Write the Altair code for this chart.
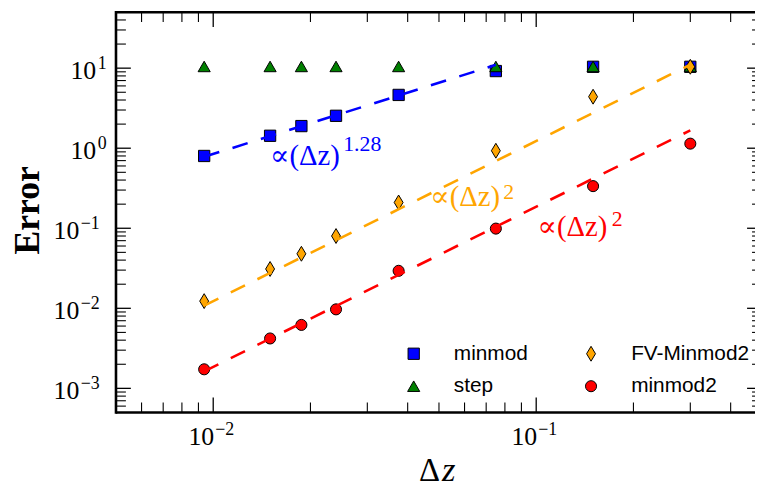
import altair as alt
import pandas as pd

# ---------------- data ----------------
dz = [0.009375, 0.015, 0.01875, 0.024, 0.0375, 0.075, 0.15, 0.3]
err_minmod = [0.80, 1.43, 1.89, 2.54, 4.63, 9.2, 10.4, 10.4]
err_step = [10.5, 10.5, 10.5, 10.5, 10.5, 10.5, 10.5, 10.5]
err_fv_minmod2 = [0.0123, 0.031, 0.048, 0.080, 0.21, 0.93, 4.4, 10.4]
err_minmod2 = [0.00173, 0.0042, 0.0062, 0.0097, 0.0294, 0.099, 0.336, 1.14]

legend_order = ["minmod", "step", "FV-Minmod2", "minmod2"]
legend_colors = ["#0000ff", "#008000", "#ffa500", "#ff0000"]
legend_shapes = ["square", "triangle-up", "M0,-1L0.6,0L0,1L-0.6,0Z", "circle"]
legend_sizes = [130, 150, 225, 125]

# fitted power laws (end points of the dashed lines)
fit_minmod_x = [0.009375, 0.075]
fit_minmod_y = [0.78, 11.0]
fit_fv_x = [0.009375, 0.3]
fit_fv_y = [0.0108, 11.06]
fit_minmod2_x = [0.009375, 0.3]
fit_minmod2_y = [0.00163, 1.67]

# annotations
ann_base = ["∝(Δz)", "∝(Δz)", "∝(Δz)"]
ann_x = [0.015, 0.047, 0.101]
ann_y = [0.62, 0.187, 0.0805]
ann_exp = ["1.28", "2", "2"]
ann_exp_x = [0.02526, 0.0790, 0.1713]
ann_exp_y = [0.927, 0.235, 0.1067]
ann_colors = ["#0000ff", "#ffa500", "#ff0000"]

# axis ticks
x_major = [0.01, 0.1]
x_major_exp = ["−2", "−1"]
x_minor = [0.006, 0.007, 0.008, 0.009, 0.02, 0.03, 0.04, 0.05, 0.06, 0.07,
           0.08, 0.09, 0.2, 0.3, 0.4]
y_major = [0.001, 0.01, 0.1, 1, 10]
y_major_exp = ["−3", "−2", "−1", "0", "1"]
y_major_neg = [True, True, True, False, False]
y_minor = [0.0006, 0.0007, 0.0008, 0.0009,
           0.002, 0.003, 0.004, 0.005, 0.006, 0.007, 0.008, 0.009,
           0.02, 0.03, 0.04, 0.05, 0.06, 0.07, 0.08, 0.09,
           0.2, 0.3, 0.4, 0.5, 0.6, 0.7, 0.8, 0.9,
           2, 3, 4, 5, 6, 7, 8, 9,
           20, 30, 40]

x_title_delta = "Δ"
x_title_z = "z"
y_title = "Error"

# ---------------- layout ----------------
W, H = 645, 404
SERIF = "Liberation Serif, DejaVu Serif, serif"
SANS = "Liberation Sans, Arial, sans-serif"

xs = alt.Scale(type="log", domain=[0.005, 0.4758], nice=False)
ys = alt.Scale(type="log", domain=[0.0005, 50], nice=False)

series_col = (["minmod"] * len(dz) + ["step"] * len(dz)
              + ["FV-Minmod2"] * len(dz) + ["minmod2"] * len(dz))
pts = pd.DataFrame({
    "dz": dz + dz + dz + dz,
    "err": err_minmod + err_step + err_fv_minmod2 + err_minmod2,
    "series": series_col,
})

points = alt.Chart(pts).mark_point(
    filled=True, opacity=1, stroke="black", strokeWidth=1
).encode(
    x=alt.X("dz:Q", scale=xs, axis=None),
    y=alt.Y("err:Q", scale=ys, axis=None),
    color=alt.Color("series:N", scale=alt.Scale(domain=legend_order, range=legend_colors),
                    legend=alt.Legend(
                        title=None, orient="none", legendX=290, legendY=334,
                        columns=2, padding=0, labelFont=SANS, labelFontSize=21,
                        labelColor="black", labelOffset=30, columnPadding=53,
                        rowPadding=11, symbolStrokeColor="black",
                        symbolStrokeWidth=1, symbolOpacity=1)),
    shape=alt.Shape("series:N", scale=alt.Scale(domain=legend_order, range=legend_shapes)),
    size=alt.Size("series:N", scale=alt.Scale(type="ordinal", domain=legend_order,
                                              range=legend_sizes)),
)

fits = pd.DataFrame({
    "x": fit_minmod_x + fit_fv_x + fit_minmod2_x,
    "y": fit_minmod_y + fit_fv_y + fit_minmod2_y,
    "g": ["a", "a", "b", "b", "c", "c"],
    "c": ["#0000ff", "#0000ff", "#ffa500", "#ffa500", "#ff0000", "#ff0000"],
})
lines = alt.Chart(fits).mark_line(strokeDash=[16, 14], strokeWidth=2.6).encode(
    x=alt.X("x:Q", scale=xs, axis=None),
    y=alt.Y("y:Q", scale=ys, axis=None),
    color=alt.Color("c:N", scale=None),
    detail="g:N",
)

ann = pd.DataFrame({"x": ann_x, "y": ann_y, "t": ann_base, "c": ann_colors,
                    "ex": ann_exp_x, "ey": ann_exp_y, "e": ann_exp})
ann_base_layer = alt.Chart(ann).mark_text(
    align="left", baseline="alphabetic", font=SERIF, fontSize=29
).encode(
    x=alt.X("x:Q", scale=xs, axis=None), y=alt.Y("y:Q", scale=ys, axis=None),
    text="t:N", color=alt.Color("c:N", scale=None))
ann_exp_layer = alt.Chart(ann).mark_text(
    align="left", baseline="alphabetic", font=SERIF, fontSize=22
).encode(
    x=alt.X("ex:Q", scale=xs, axis=None), y=alt.Y("ey:Q", scale=ys, axis=None),
    text="e:N", color=alt.Color("c:N", scale=None))

# ticks (inward, on all four sides)
def yticks(vals, length, width):
    d = alt.Chart(pd.DataFrame({"v": vals}))
    left = d.mark_rule(color="black", strokeWidth=width).encode(
        y=alt.Y("v:Q", scale=ys, axis=None), x=alt.value(0), x2=alt.value(length))
    right = d.mark_rule(color="black", strokeWidth=width).encode(
        y=alt.Y("v:Q", scale=ys, axis=None), x=alt.value(W + 7 - length), x2=alt.value(W + 7))
    return [left, right]

def xticks(vals, length, width):
    d = alt.Chart(pd.DataFrame({"v": vals}))
    top = d.mark_rule(color="black", strokeWidth=width).encode(
        x=alt.X("v:Q", scale=xs, axis=None), y=alt.value(0), y2=alt.value(length))
    bottom = d.mark_rule(color="black", strokeWidth=width).encode(
        x=alt.X("v:Q", scale=xs, axis=None), y=alt.value(H - length), y2=alt.value(H))
    return [top, bottom]

tick_layers = (yticks(y_major, 15, 1.3) + yticks(y_minor, 10, 1.1)
               + xticks(x_major, 15, 1.3) + xticks(x_minor, 10, 1.1))

one = alt.Chart(pd.DataFrame({"a": [0]}))
spines = [
    one.mark_rule(color="black", strokeWidth=2.6).encode(
        x=alt.value(0), y=alt.value(-1.3), y2=alt.value(H + 1.3)),
    one.mark_rule(color="black", strokeWidth=2.6).encode(
        y=alt.value(0), x=alt.value(0), x2=alt.value(W + 20)),
    one.mark_rule(color="black", strokeWidth=2.6).encode(
        y=alt.value(H), x=alt.value(0), x2=alt.value(W + 20)),
]

# axis titles
titles = [
    alt.Chart(pd.DataFrame({"t": [y_title]})).mark_text(
        font=SERIF, fontSize=36, fontWeight="bold", angle=270,
        align="center", baseline="alphabetic", color="black"
    ).encode(x=alt.value(-78), y=alt.value(200), text="t:N"),
    alt.Chart(pd.DataFrame({"t": [x_title_delta]})).mark_text(
        font=SERIF, fontSize=33, align="right", baseline="alphabetic", color="black"
    ).encode(x=alt.value(327), y=alt.value(H + 69), text="t:N"),
    alt.Chart(pd.DataFrame({"t": [x_title_z]})).mark_text(
        font=SERIF, fontSize=35, fontStyle="italic", align="left",
        baseline="alphabetic", color="black"
    ).encode(x=alt.value(329), y=alt.value(H + 69), text="t:N"),
]

# tick labels: "10" plus exponent
ylab = pd.DataFrame({"v": y_major, "e": y_major_exp, "neg": y_major_neg})
ylab_layers = []
for cond, bx in [("datum.neg", -37), ("!datum.neg", -20)]:
    base = alt.Chart(ylab).transform_filter(cond).mark_text(
        text="10", align="right", baseline="alphabetic", font=SERIF,
        fontSize=26, dy=10.5, color="black"
    ).encode(y=alt.Y("v:Q", scale=ys, axis=None), x=alt.value(bx))
    ex = alt.Chart(ylab).transform_filter(cond).mark_text(
        align="left", baseline="alphabetic", font=SERIF, fontSize=18,
        dy=1, color="black"
    ).encode(y=alt.Y("v:Q", scale=ys, axis=None), x=alt.value(bx + 1.5), text="e:N")
    ylab_layers += [base, ex]

xlab = pd.DataFrame({"v": x_major, "e": x_major_exp})
xlab_layers = [
    alt.Chart(xlab).mark_text(
        text="10", align="right", baseline="alphabetic", font=SERIF,
        fontSize=26, dx=1, color="black"
    ).encode(x=alt.X("v:Q", scale=xs, axis=None), y=alt.value(H + 33)),
    alt.Chart(xlab).mark_text(
        align="left", baseline="alphabetic", font=SERIF, fontSize=18,
        dx=2, color="black"
    ).encode(x=alt.X("v:Q", scale=xs, axis=None), y=alt.value(H + 23), text="e:N"),
]

chart = alt.layer(
    points, lines, ann_base_layer, ann_exp_layer,
    *tick_layers, *spines, *titles, *ylab_layers, *xlab_layers
).properties(
    width=W, height=H,
    padding={"left": 109, "top": 2, "right": 0, "bottom": 73},
    autosize=alt.AutoSizeParams(type="none"),
).configure_view(stroke=None)

chart.save("out.html", embed_options={"renderer": "svg", "actions": False})
